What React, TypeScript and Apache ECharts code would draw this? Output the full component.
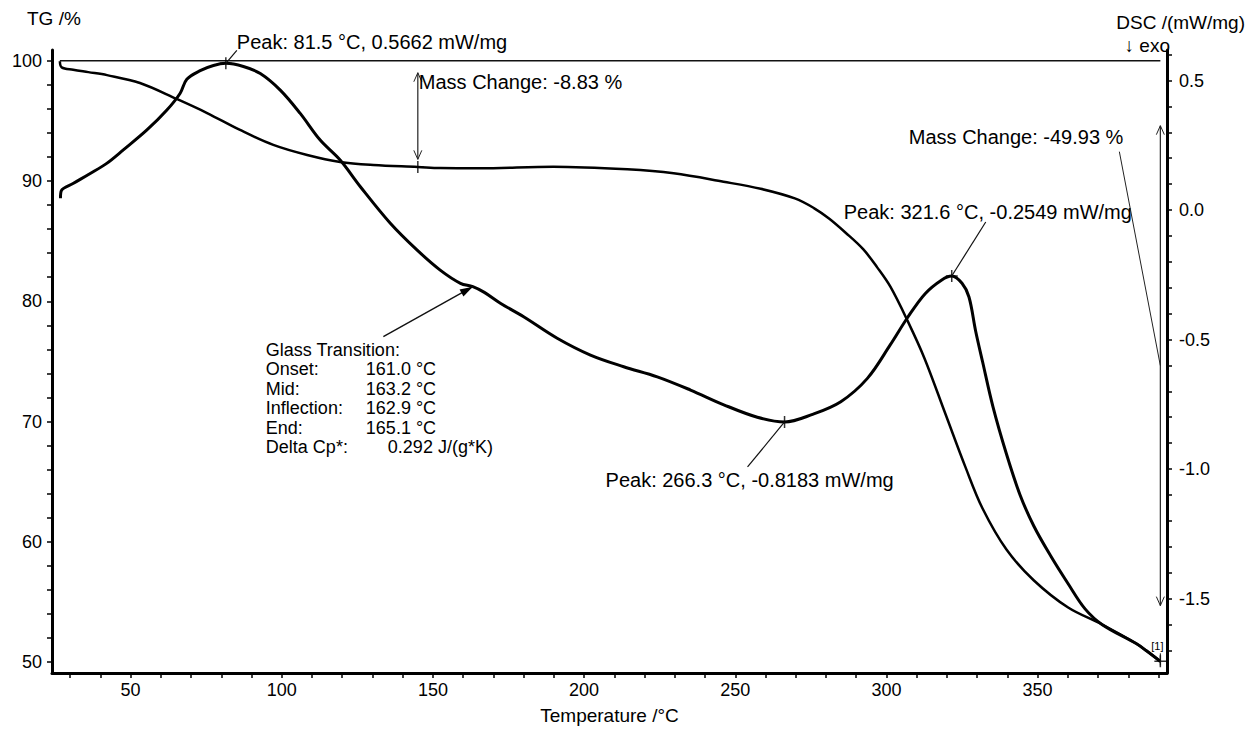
import { useEffect, useRef } from "react";
import * as echarts from "echarts";

const FONT = "'Liberation Sans', Arial, Helvetica, sans-serif";

// Thermogravimetric mass curve: [temperature °C, mass %]
const TG_CURVE: [number, number][] = [
  [26.6, 99.95], [27.2, 99.45], [31.0, 99.25], [36.0, 99.05], [42.2, 98.8],
  [53.1, 98.15], [65.4, 96.8], [75.3, 95.65], [86.2, 94.24], [97.2, 93.0],
  [108.4, 92.16], [119.3, 91.58], [130.3, 91.33], [145.0, 91.17], [152.4, 91.08],
  [165.7, 91.06], [189.8, 91.19], [214.3, 90.97], [229.6, 90.64], [246.1, 89.94],
  [258.4, 89.35], [269.7, 88.55], [276.0, 87.75], [281.0, 86.88], [286.5, 85.7],
  [292.3, 84.33], [297.0, 82.8], [301.3, 81.21], [307.0, 78.37], [312.6, 75.25],
  [319.4, 70.71], [326.2, 66.17], [331.8, 62.77], [339.7, 59.36], [348.7, 56.81],
  [360.1, 54.54], [371.4, 53.13], [382.6, 51.55], [386.0, 50.95], [390.6, 50.07],
];

// DSC heat flow curve: [temperature °C, mW/mg]
const DSC_CURVE: [number, number][] = [
  [26.8, 0.045], [27.1, 0.075], [31.1, 0.103], [36.5, 0.14], [42.1, 0.18],
  [47.6, 0.232], [55.4, 0.309], [62.0, 0.386], [66.4, 0.451], [68.6, 0.505],
  [73.0, 0.538], [77.4, 0.558], [81.5, 0.5662], [87.3, 0.554], [92.9, 0.527],
  [99.5, 0.463], [106.1, 0.373], [112.7, 0.27], [119.3, 0.193], [126.0, 0.09],
  [135.9, -0.051], [144.7, -0.154], [152.4, -0.232], [159.1, -0.283], [163.2, -0.296],
  [167.0, -0.318], [172.3, -0.36], [180.0, -0.412], [191.1, -0.495], [202.1, -0.56],
  [213.1, -0.605], [224.2, -0.644], [235.2, -0.695], [246.4, -0.753], [257.3, -0.8],
  [266.3, -0.8183], [275.3, -0.79], [284.9, -0.74], [293.7, -0.65], [301.3, -0.52],
  [307.0, -0.415], [312.8, -0.323], [318.3, -0.27], [321.6, -0.2549], [325.0, -0.283],
  [327.3, -0.336], [329.5, -0.467], [331.8, -0.586], [335.2, -0.758], [339.7, -0.942],
  [344.2, -1.1], [348.7, -1.219], [354.4, -1.337], [360.1, -1.443], [365.7, -1.54],
  [371.4, -1.601], [382.6, -1.674], [386.0, -1.702], [390.6, -1.743],
];

// Evaluated DSC peaks: temperature °C, heat flow mW/mg
const DSC_PEAKS = [
  { t: 81.5, v: 0.5662 },
  { t: 266.3, v: -0.8183 },
  { t: 321.6, v: -0.2549 },
];

// Mass change steps measured from the 100 % start level
const START_MASS = 100;
const MASS_STEPS = [
  { t: 145.0, change: -8.83 },
  { t: 390.6, change: -49.93 },
];

// Glass transition evaluation
const GLASS = { onset: 161.0, mid: 163.2, inflection: 162.9, end: 165.1, deltaCp: 0.292 };

// Axis ticks and labels
const X_LABELS = [50, 100, 150, 200, 250, 300, 350];
const X_TICKS = [30, 40, 50, 60, 70, 80, 90, 100, 110, 120, 130, 140, 150, 160, 170, 180, 190, 200,
  210, 220, 230, 240, 250, 260, 270, 280, 290, 300, 310, 320, 330, 340, 350, 360, 370, 380, 390];
const TG_LABELS = [50, 60, 70, 80, 90, 100];
const TG_TICKS = [50, 52, 54, 56, 58, 60, 62, 64, 66, 68, 70, 72, 74, 76, 78, 80, 82, 84, 86, 88,
  90, 92, 94, 96, 98, 100];
const DSC_LABELS = [-1.5, -1.0, -0.5, 0.0, 0.5];
const DSC_TICKS = [-1.7, -1.6, -1.5, -1.4, -1.3, -1.2, -1.1, -1.0, -0.9, -0.8, -0.7, -0.6, -0.5,
  -0.4, -0.3, -0.2, -0.1, 0.0, 0.1, 0.2, 0.3, 0.4, 0.5, 0.6];

// Label placement (pixel offsets from the annotated point)
const PEAK_LAYOUT = [
  { dx: 11, dy: -21, lx: 11, ly: -13 },
  { dx: -179, dy: 58, lx: -37, ly: 45 },
  { dx: -108, dy: -64, lx: 34, ly: -54 },
];
const MASS_LAYOUT = [
  { top: 99.0, bottom: 91.8, align: "left", dx: 1, dy: 9, leader: false },
  { top: 94.6, bottom: 54.7, align: "right", dx: -37, dy: 11, leader: true },
];

const PLUS = "path://M5.25,0h1.5v5.25h5.25v1.5h-5.25v5.25h-1.5v-5.25h-5.25v-1.5h5.25z";

function interp(curve: [number, number][], t: number) {
  for (let i = 1; i < curve.length; i++) {
    if (curve[i][0] >= t) {
      const [x0, y0] = curve[i - 1];
      const [x1, y1] = curve[i];
      return y0 + ((t - x0) / (x1 - x0)) * (y1 - y0);
    }
  }
  return curve[curve.length - 1][1];
}

const axisLineStyle = { color: "#000", width: 3 };
const tickStyle = { color: "#000", width: 1.5 };
const labelStyle = { fontSize: 18, color: "#000", fontFamily: FONT };

function buildOption() {
  return {
    animation: false,
    backgroundColor: "#fff",
    textStyle: { fontFamily: FONT, color: "#000" },
    grid: { left: 52, right: 82, top: 50, bottom: 58 },
    xAxis: {
      type: "value",
      min: 24,
      max: 392.8,
      axisLine: { show: true, onZero: false, lineStyle: axisLineStyle },
      axisTick: { show: true, customValues: X_TICKS, length: 5, lineStyle: tickStyle },
      axisLabel: { ...labelStyle, customValues: X_LABELS, margin: 8 },
      splitLine: { show: false },
      name: "Temperature /°C",
      nameLocation: "middle",
      nameGap: 33,
      nameTextStyle: { fontSize: 19, color: "#000", fontFamily: FONT },
    },
    yAxis: [
      {
        type: "value",
        position: "left",
        min: 49.1,
        max: 100.89,
        axisLine: { show: true, onZero: false, lineStyle: axisLineStyle },
        axisTick: { show: true, customValues: TG_TICKS, length: 5, lineStyle: tickStyle },
        axisLabel: { ...labelStyle, customValues: TG_LABELS, margin: 10 },
        splitLine: { show: false },
      },
      {
        type: "value",
        position: "right",
        min: -1.7876,
        max: 0.6178,
        axisLine: { show: true, onZero: false, lineStyle: axisLineStyle },
        axisTick: { show: true, customValues: DSC_TICKS, length: 5, lineStyle: tickStyle },
        axisLabel: {
          ...labelStyle,
          customValues: DSC_LABELS,
          margin: 12,
          formatter: (v: number) => v.toFixed(1),
        },
        splitLine: { show: false },
      },
    ],
    series: [
      {
        name: "Start level",
        type: "line",
        yAxisIndex: 0,
        data: [[TG_CURVE[0][0], START_MASS], [MASS_STEPS[1].t, START_MASS]],
        showSymbol: false,
        lineStyle: { color: "#111", width: 1.5 },
        silent: true,
        z: 2,
      },
      {
        name: "TG",
        type: "line",
        yAxisIndex: 0,
        data: TG_CURVE,
        showSymbol: false,
        smooth: 0.35,
        lineStyle: { color: "#000", width: 2.5 },
        z: 3,
      },
      {
        name: "DSC",
        type: "line",
        yAxisIndex: 1,
        data: DSC_CURVE,
        showSymbol: false,
        smooth: 0.35,
        lineStyle: { color: "#000", width: 3 },
        z: 3,
      },
      {
        name: "DSC peaks",
        type: "scatter",
        yAxisIndex: 1,
        data: DSC_PEAKS.map((p) => [p.t, p.v]),
        symbol: PLUS,
        symbolSize: 12,
        itemStyle: { color: "#000" },
        z: 5,
      },
      {
        name: "Mass steps",
        type: "scatter",
        yAxisIndex: 0,
        data: MASS_STEPS.map((m) => [m.t, START_MASS + m.change]),
        symbol: PLUS,
        symbolSize: 12,
        itemStyle: { color: "#000" },
        z: 5,
      },
    ],
  };
}

function buildAnnotations(chart: echarts.ECharts) {
  const toPx = (t: number, v: number, yi: number) =>
    chart.convertToPixel({ xAxisIndex: 0, yAxisIndex: yi }, [t, v]) as number[];
  const els: any[] = [];
  const line = (x1: number, y1: number, x2: number, y2: number, w = 1, color = "#111") =>
    els.push({ type: "line", silent: true, z: 10, shape: { x1, y1, x2, y2 }, style: { stroke: color, lineWidth: w } });
  const text = (x: number, y: number, str: string, size = 20, align = "left") =>
    els.push({
      type: "text", silent: true, z: 10, x, y,
      style: { text: str, fontSize: size, fontFamily: FONT, fill: "#000", align, verticalAlign: "middle" },
    });
  const openHead = (x: number, y: number, dir: number) =>
    els.push({
      type: "polyline", silent: true, z: 10,
      shape: { points: [[x - 4, y - dir * 9], [x, y], [x + 4, y - dir * 9]] },
      style: { stroke: "#222", lineWidth: 1, fill: "none" },
    });

  // axis titles
  text(27, 18, "TG /%", 19);
  text(1245, 22, "DSC /(mW/mg)", 19, "right");
  text(1170, 45, "↓ exo", 19, "right");

  // DSC peak labels
  DSC_PEAKS.forEach((p, i) => {
    const [mx, my] = toPx(p.t, p.v, 1);
    const l = PEAK_LAYOUT[i];
    line(mx + l.lx, my + l.ly, mx, my, 1.2);
    text(mx + l.dx, my + l.dy, `Peak: ${p.t.toFixed(1)} °C, ${p.v.toFixed(4)} mW/mg`);
  });

  // mass change arrows
  MASS_STEPS.forEach((m, i) => {
    const l = MASS_LAYOUT[i];
    const [ax, ay1] = toPx(m.t, l.top, 0);
    const [, ay2] = toPx(m.t, l.bottom, 0);
    line(ax, ay1, ax, ay2, 1.2, "#222");
    openHead(ax, ay1, -1);
    openHead(ax, ay2, 1);
    text(ax + l.dx, ay1 + l.dy, `Mass Change: ${m.change.toFixed(2)} %`, 20, l.align);
    if (l.leader) line(ax + l.dx - 4, ay1 + l.dy + 15, ax, (ay1 + ay2) / 2, 1, "#222");
  });

  // end-of-run marker label
  const last = MASS_STEPS[MASS_STEPS.length - 1];
  const [ex, ey] = toPx(last.t, START_MASS + last.change, 0);
  text(ex - 3, ey - 15, "[1]", 11, "center");
  line(ex, ey - 8, ex, ey + 4, 1);

  // glass transition evaluation
  const gv = interp(DSC_CURVE, GLASS.mid);
  const [gx, gy] = toPx(GLASS.mid, gv, 1);
  const sx = gx - 89.5;
  const sy = gy + 50;
  line(sx, sy, gx, gy, 1.4);
  const len = Math.hypot(gx - sx, gy - sy);
  const ux = (gx - sx) / len;
  const uy = (gy - sy) / len;
  const bx = gx - ux * 13;
  const by = gy - uy * 13;
  els.push({
    type: "polygon", silent: true, z: 11,
    shape: { points: [[gx, gy], [bx - uy * 4, by + ux * 4], [bx + uy * 4, by - ux * 4]] },
    style: { fill: "#000" },
  });
  const rows: [string, string][] = [
    ["Glass Transition:", ""],
    ["Onset:", `${GLASS.onset.toFixed(1)} °C`],
    ["Mid:", `${GLASS.mid.toFixed(1)} °C`],
    ["Inflection:", `${GLASS.inflection.toFixed(1)} °C`],
    ["End:", `${GLASS.end.toFixed(1)} °C`],
    ["Delta Cp*:", `${GLASS.deltaCp.toFixed(3)} J/(g*K)`],
  ];
  rows.forEach(([k, v], i) => {
    const y = gy + 63 + i * 19.5;
    text(gx - 207, y, k, 18);
    if (v) text(gx + (i === rows.length - 1 ? -85 : -107), y, v, 18);
  });

  return els;
}

export default function App() {
  const ref = useRef<HTMLDivElement>(null);
  useEffect(() => {
    const el = ref.current;
    if (!el) return;
    const chart = echarts.init(el, undefined, { renderer: "svg" });
    chart.setOption(buildOption() as any);
    chart.setOption({ graphic: buildAnnotations(chart) } as any);
    return () => chart.dispose();
  }, []);
  return (
    <div
      ref={ref}
      style={{ position: "absolute", left: 0, top: 0, width: 1249, height: 731, background: "#fff" }}
    />
  );
}
